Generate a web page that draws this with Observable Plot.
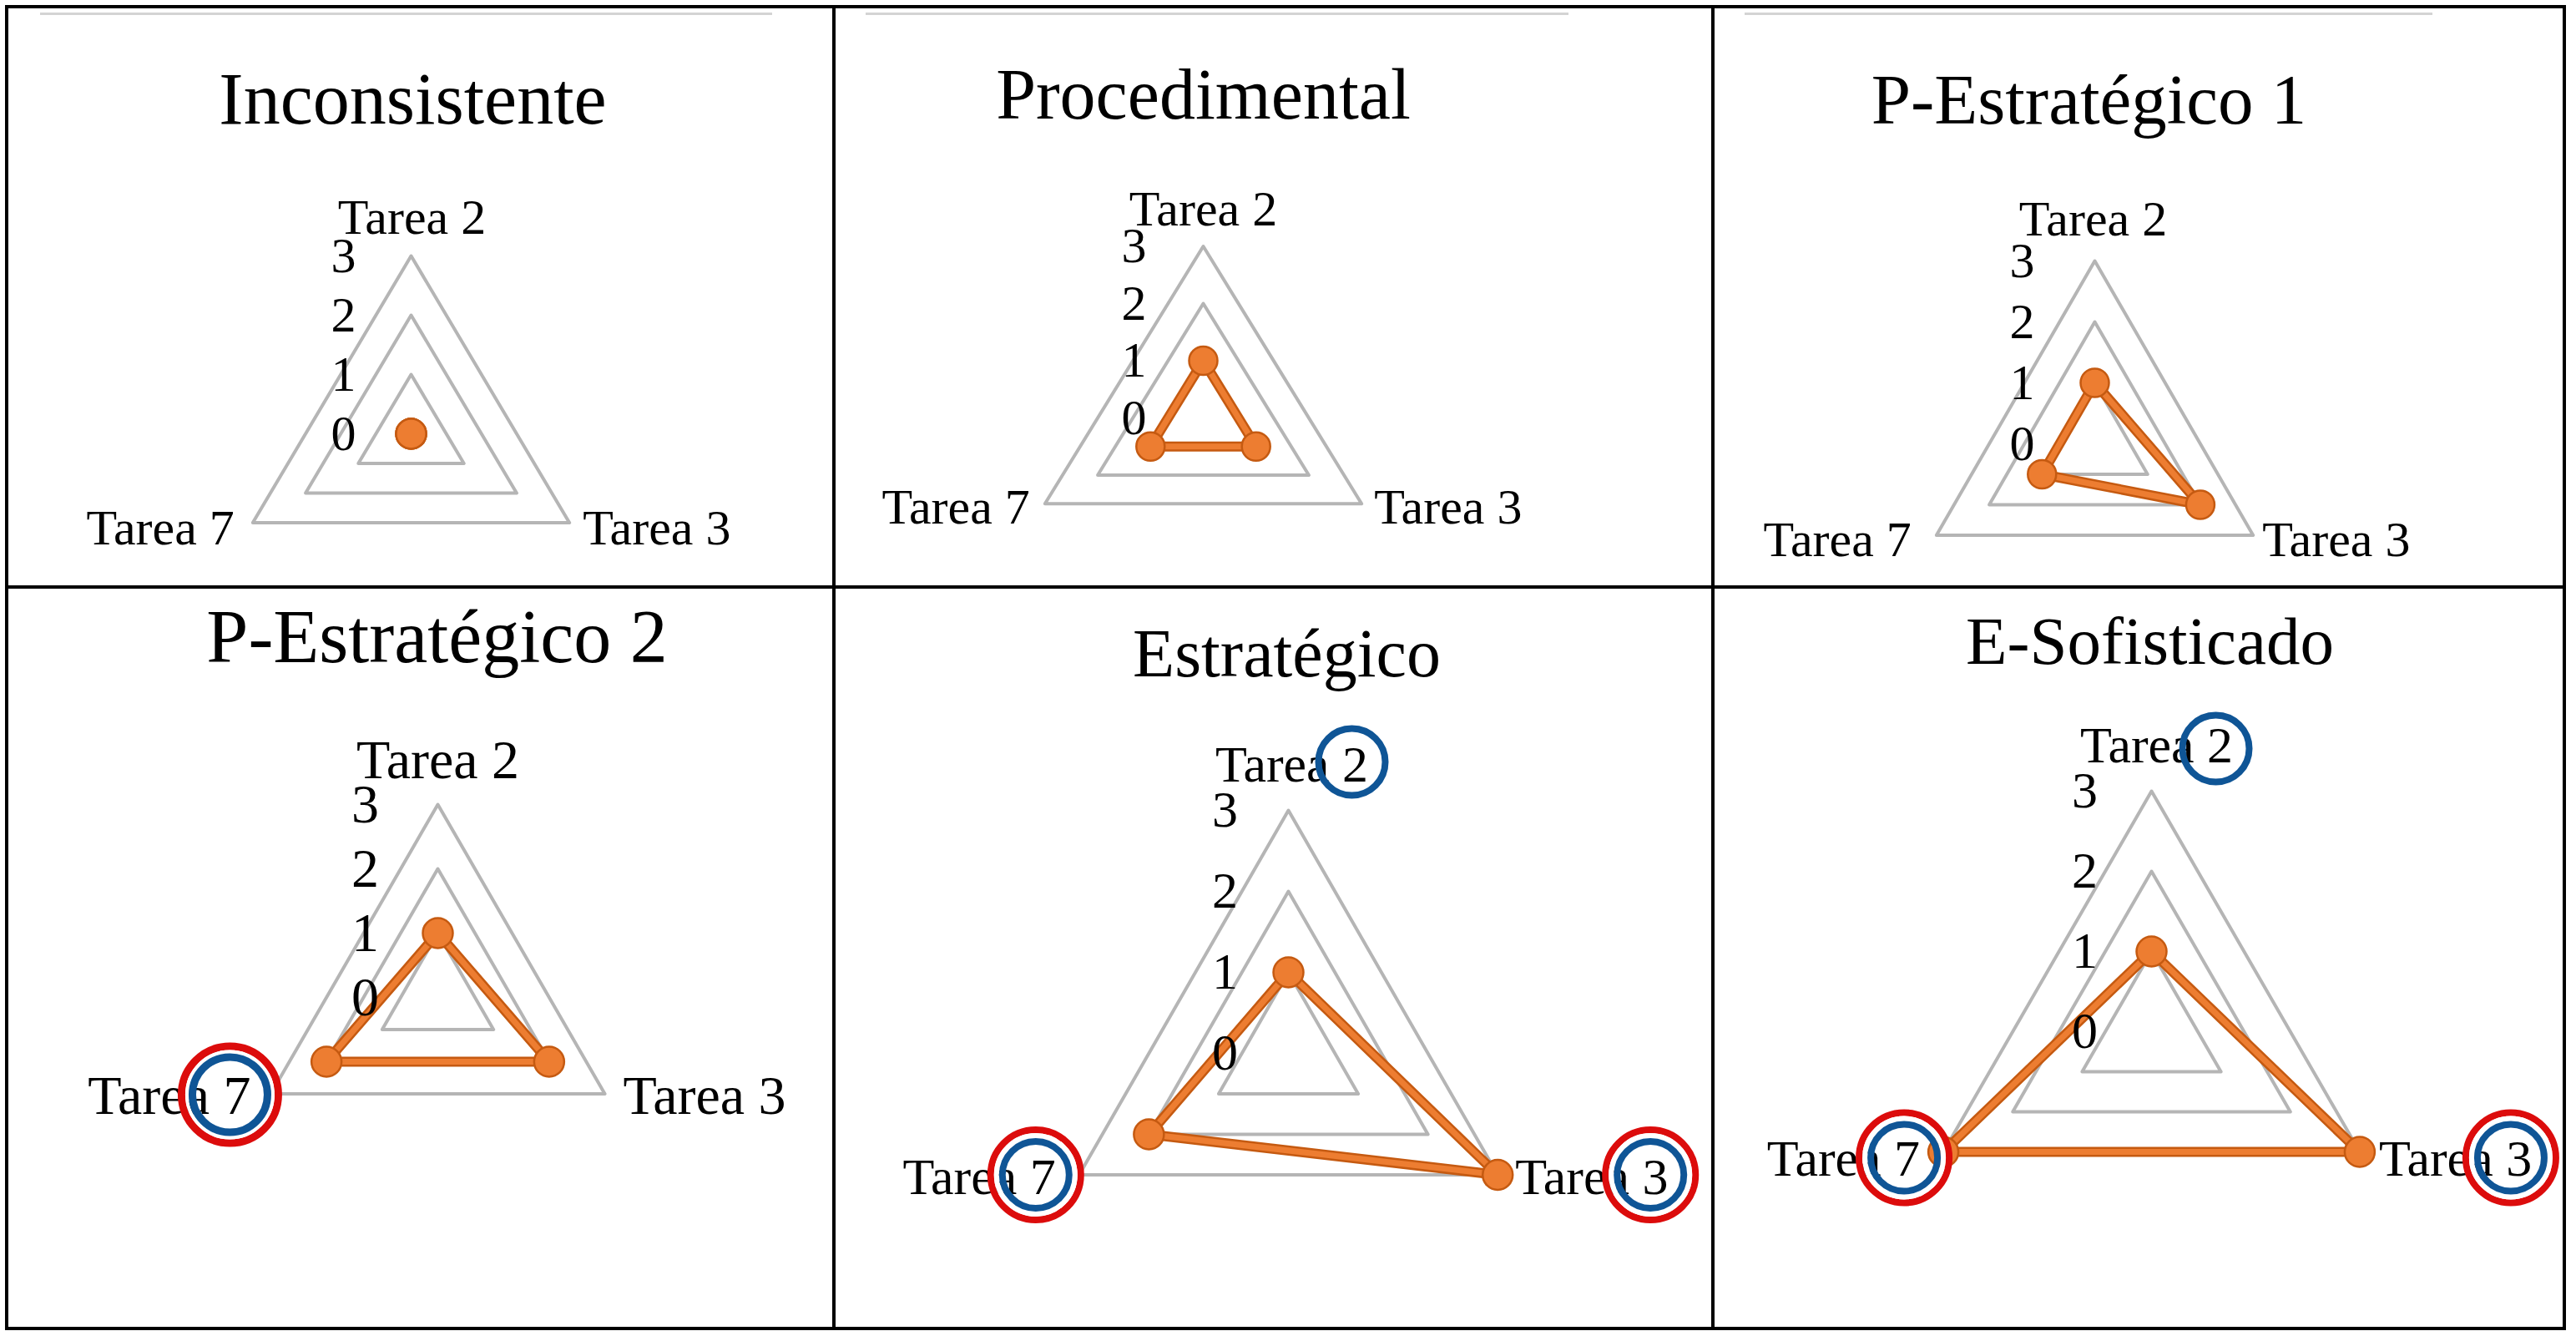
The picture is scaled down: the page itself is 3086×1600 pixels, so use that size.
<!DOCTYPE html>
<html>
<head>
<meta charset="utf-8">
<script src="https://cdn.jsdelivr.net/npm/d3@7"></script>
<script src="https://cdn.jsdelivr.net/npm/@observablehq/plot@0.6"></script>
<style>
html, body { margin: 0; padding: 0; background: #fff; }
#root { position: relative; width: 3086px; height: 1600px; background: #fff; overflow: hidden; }
.cell { position: absolute; }
.cell svg { display: block; overflow: visible; }
.rule { position: absolute; background: #000; z-index: 3; }
.area { position: absolute; background: #d4d4d4; z-index: 1; }
</style>
</head>
<body>
<div id="root"></div>
<script>
// ---------- DATA ----------
const perfiles = ["Inconsistente", "Procedimental", "P-Estratégico 1", "P-Estratégico 2", "Estratégico", "E-Sofisticado"];
const tareas = ["Tarea 2", "Tarea 3", "Tarea 7"];
const valoresTarea2 = [0, 1, 1, 1, 1, 1];
const valoresTarea3 = [0, 1, 2, 2, 3, 3];
const valoresTarea7 = [0, 1, 1, 2, 2, 3];
const escala = [0, 1, 2, 3];
const circuloRojo = [[], [], [], ["Tarea 7"], ["Tarea 7", "Tarea 3"], ["Tarea 7", "Tarea 3"]];
const circuloAzul = [[], [], [], ["Tarea 7"], ["Tarea 2", "Tarea 7", "Tarea 3"], ["Tarea 2", "Tarea 7", "Tarea 3"]];

// ---------- LAYOUT / STYLE ----------
const angulo = {"Tarea 2": Math.PI / 2, "Tarea 3": -Math.PI / 6, "Tarea 7": Math.PI * 7 / 6};
const layout = [
  {L: 8, T: 8, W: 991, H: 695, cx: 492, cy: 519, ux: 73, uy: 71, title: 88, titleDx: 2, titleDy: 139, label: 60,
   t2: [1, -27], t3: [16, 26], t7: [-22, 26], tickDx: -81, dotR: 18},
  {L: 999, T: 8, W: 1053, H: 695, cx: 1441, cy: 500, ux: 73, uy: 68.5, title: 86, titleDx: 0, titleDy: 133, label: 60,
   t2: [0, -25], t3: [15, 24], t7: [-18, 24], tickDx: -83, dotR: 17},
  {L: 2052, T: 8, W: 1020, H: 695, cx: 2509, cy: 531, ux: 73, uy: 73, title: 85, titleDx: -7, titleDy: 139, label: 60,
   t2: [-2, -31], t3: [11, 25], t7: [-30, 25], tickDx: -87, dotR: 17},
  {L: 8, T: 703, W: 991, H: 888, cx: 524, cy: 1194, ux: 77, uy: 77, title: 90, titleDx: -1, titleDy: 89, label: 66,
   t2: [0, -32], t3: [22, 24], t7: [-24, 24], tickDx: -87, dotR: 18,
   redR: 58, blueR: 45, ringW: 9, rings: {"Tarea 7": [-49, 1]}},
  {L: 999, T: 703, W: 1053, H: 888, cx: 1543, cy: 1261, ux: 96.5, uy: 97, title: 82, titleDx: -2, titleDy: 106, label: 62,
   t2: [4, -35], t3: [21, 23], t7: [-28, 23], tickDx: -76, dotR: 18,
   redR: 54, blueR: 40, ringW: 8, rings: {"Tarea 7": [-52, 0], "Tarea 3": [183, 0], "Tarea 2": [76, -58]}},
  {L: 2052, T: 703, W: 1020, H: 888, cx: 2577, cy: 1235, ux: 96, uy: 96, title: 81, titleDx: -2, titleDy: 91, label: 62,
   t2: [6, -35], t3: [23, 28], t7: [-28, 28], tickDx: -80, dotR: 18,
   redR: 54, blueR: 40, ringW: 8, rings: {"Tarea 7": [-47, 7], "Tarea 3": [181, 7], "Tarea 2": [77, -51]}}
];
const gris = "#b5b5b5", naranja = "#ed7d31", naranjaOsc = "#c55a11", rojo = "#dc0c0c", azul = "#0f5596";
const fuente = "'Liberation Serif', 'Times New Roman', serif";

const px = d => d.valor * Math.cos(angulo[d.tarea]);
const py = d => d.valor * Math.sin(angulo[d.tarea]);
const series = [valoresTarea2, valoresTarea3, valoresTarea7];
const root = document.getElementById("root");

perfiles.forEach((nombre, i) => {
  const c = layout[i];
  const puntos = tareas.map((t, k) => ({tarea: t, valor: series[k][i]}));
  const anillos = escala.filter(v => v > 0).flatMap(v => tareas.map(t => ({tarea: t, valor: v})));
  const vmax = d3.max(escala);
  const vertice = t => [{tarea: t, valor: vmax}];

  const marks = [
    Plot.line(anillos, {x: px, y: py, z: "valor", curve: "linear-closed", stroke: gris, strokeWidth: 4}),
    Plot.line(puntos, {x: px, y: py, curve: "linear-closed", stroke: naranjaOsc, strokeWidth: 12, strokeLinejoin: "round"}),
    Plot.line(puntos, {x: px, y: py, curve: "linear-closed", stroke: naranja, strokeWidth: 7, strokeLinejoin: "round"}),
    Plot.dot(puntos, {x: px, y: py, r: c.dotR, fill: naranja, stroke: naranjaOsc, strokeWidth: 2.5}),
    Plot.text(escala, {x: () => 0, y: d => d, text: d => String(d), dx: c.tickDx, fontSize: c.label,
      fontFamily: fuente, textAnchor: "middle", lineAnchor: "middle", fill: "#000"}),
    Plot.text(vertice("Tarea 2"), {x: px, y: py, text: "tarea", textAnchor: "middle", lineAnchor: "bottom",
      dx: c.t2[0], dy: c.t2[1], fontSize: c.label, fontFamily: fuente, fill: "#000"}),
    Plot.text(vertice("Tarea 3"), {x: px, y: py, text: "tarea", textAnchor: "start", lineAnchor: "bottom",
      dx: c.t3[0], dy: c.t3[1], fontSize: c.label, fontFamily: fuente, fill: "#000"}),
    Plot.text(vertice("Tarea 7"), {x: px, y: py, text: "tarea", textAnchor: "end", lineAnchor: "bottom",
      dx: c.t7[0], dy: c.t7[1], fontSize: c.label, fontFamily: fuente, fill: "#000"}),
    Plot.text([nombre], {x: () => 0, frameAnchor: "top", text: d => d, textAnchor: "middle", lineAnchor: "bottom",
      dx: c.titleDx, dy: c.titleDy, fontSize: c.title, fontFamily: fuente, fill: "#000"})
  ];

  circuloRojo[i].forEach(t => {
    const [dx, dy] = c.rings[t];
    marks.push(Plot.dot(vertice(t), {x: px, y: py, dx, dy, r: c.redR, fill: "none", stroke: rojo, strokeWidth: c.ringW}));
    marks.push(Plot.dot(vertice(t), {x: px, y: py, dx, dy, r: (c.redR + c.blueR) / 2, fill: "none", stroke: "#fff",
      strokeWidth: Math.max(1, c.redR - c.blueR - c.ringW)}));
  });
  circuloAzul[i].forEach(t => {
    const [dx, dy] = c.rings[t];
    marks.push(Plot.dot(vertice(t), {x: px, y: py, dx, dy, r: c.blueR, fill: "none", stroke: azul, strokeWidth: c.ringW}));
  });

  const svg = Plot.plot({
    width: c.W, height: c.H, margin: 0,
    x: {domain: [(c.L - c.cx) / c.ux, (c.L + c.W - c.cx) / c.ux], axis: null},
    y: {domain: [(c.cy - (c.T + c.H)) / c.uy, (c.cy - c.T) / c.uy], axis: null},
    style: {background: "transparent", fontFamily: fuente, overflow: "visible"},
    marks
  });
  const cell = document.createElement("div");
  cell.className = "cell";
  cell.style.left = c.L + "px";
  cell.style.top = c.T + "px";
  cell.style.width = c.W + "px";
  cell.style.height = c.H + "px";
  cell.style.zIndex = 2;
  cell.appendChild(svg);
  root.appendChild(cell);
});

// chart-area top borders (light gray) in the top row
[[48, 925], [1037, 1879], [2090, 2914]].forEach(([a, b]) => {
  const d = document.createElement("div");
  d.className = "area";
  d.style.left = a + "px"; d.style.top = "15px"; d.style.width = (b - a) + "px"; d.style.height = "3px";
  root.appendChild(d);
});

// table rules
const rules = [
  [6, 6, 3068, 4],      // top
  [6, 701, 3068, 4],    // middle
  [6, 1589, 3068, 4],   // bottom
  [6, 6, 4, 1587],      // left
  [997, 6, 4, 1587],    // col 1
  [2050, 6, 4, 1587],   // col 2
  [3070, 6, 4, 1587]    // right
];
rules.forEach(([x, y, w, h]) => {
  const d = document.createElement("div");
  d.className = "rule";
  d.style.left = x + "px"; d.style.top = y + "px"; d.style.width = w + "px"; d.style.height = h + "px";
  root.appendChild(d);
});
</script>
</body>
</html>
